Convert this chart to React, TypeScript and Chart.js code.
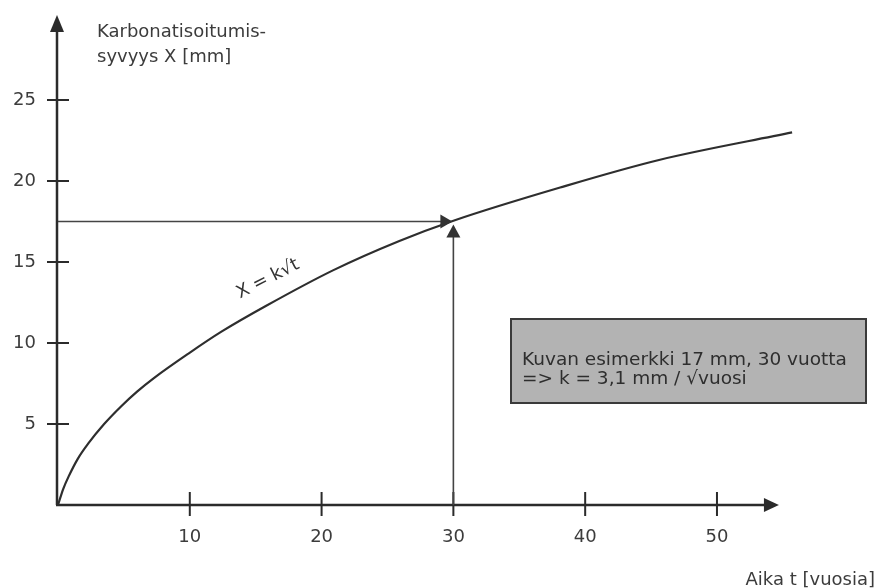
import { useEffect, useRef } from "react";
import { Chart, registerables } from "chart.js";

Chart.register(...registerables);

// Curve: time t [years] vs carbonation depth X [mm]
const timeYears = [0, 0.4, 0.8, 1.5, 2.3, 3.5, 4.8, 6, 7.3, 9.9, 12.4, 15.8, 20.9, 25.9, 30, 38.1, 45.6, 55.7];
const depthMm = [0, 1.0, 1.75, 2.85, 3.8, 5.0, 6.1, 7.0, 7.85, 9.35, 10.7, 12.3, 14.5, 16.3, 17.55, 19.6, 21.3, 23.0];

const xTicks = [10, 20, 30, 40, 50];
const yTicks = [5, 10, 15, 20, 25];

const exampleT = 30;
const exampleX = 17.5;

const xAxisEnd = 54.7;

const yAxisTitle = ["Karbonatisoitumis-", "syvyys X [mm]"];
const xAxisTitle = "Aika t [vuosia]";
const curveLabel = "X = k√t";
const boxLines = ["Kuvan esimerkki 17 mm, 30 vuotta", "=> k = 3,1 mm / √vuosi"];

const FONT = "'DejaVu Sans', 'Liberation Sans', sans-serif";
const AXIS_COLOR = "#2b2b2b";
const TEXT_COLOR = "#3c3c3c";

function arrowHead(
  ctx: CanvasRenderingContext2D,
  tipX: number,
  tipY: number,
  dir: "up" | "right",
  len: number,
  half: number
) {
  ctx.beginPath();
  if (dir === "up") {
    ctx.moveTo(tipX, tipY);
    ctx.lineTo(tipX - half, tipY + len);
    ctx.lineTo(tipX + half, tipY + len);
  } else {
    ctx.moveTo(tipX, tipY);
    ctx.lineTo(tipX - len, tipY - half);
    ctx.lineTo(tipX - len, tipY + half);
  }
  ctx.closePath();
  ctx.fill();
}

const overlay = {
  id: "overlay",
  beforeDraw(chart: any) {
    const { ctx, width, height } = chart;
    ctx.save();
    ctx.fillStyle = "#ffffff";
    ctx.fillRect(0, 0, width, height);
    ctx.restore();
  },
  afterDraw(chart: any) {
    const { ctx, chartArea } = chart;
    const xs = chart.scales.x;
    const ys = chart.scales.y;
    const ox = xs.getPixelForValue(0);
    const oy = ys.getPixelForValue(0);
    const xEnd = xs.getPixelForValue(xAxisEnd);
    const yTop = chartArea.top;

    ctx.save();
    ctx.strokeStyle = AXIS_COLOR;
    ctx.fillStyle = AXIS_COLOR;
    ctx.lineCap = "butt";

    // axes
    ctx.lineWidth = 2.5;
    ctx.beginPath();
    ctx.moveTo(ox - 1, oy);
    ctx.lineTo(ox - 1, yTop + 10);
    ctx.moveTo(ox - 2, oy);
    ctx.lineTo(xEnd - 8, oy);
    ctx.stroke();
    arrowHead(ctx, ox - 1, yTop, "up", 17, 7);
    arrowHead(ctx, xEnd, oy, "right", 15, 7);

    // tick marks crossing the axes
    ctx.lineWidth = 2;
    ctx.beginPath();
    for (const v of yTicks) {
      const py = ys.getPixelForValue(v);
      ctx.moveTo(ox - 11, py);
      ctx.lineTo(ox + 11, py);
    }
    for (const v of xTicks) {
      const px = xs.getPixelForValue(v);
      ctx.moveTo(px, oy - 13);
      ctx.lineTo(px, oy + 11);
    }
    ctx.stroke();

    // example arrows
    const px = xs.getPixelForValue(exampleT);
    const py = ys.getPixelForValue(exampleX);
    ctx.strokeStyle = "#444";
    ctx.fillStyle = "#333";
    ctx.lineWidth = 1.6;
    ctx.beginPath();
    ctx.moveTo(ox, py);
    ctx.lineTo(px - 10, py);
    ctx.moveTo(px, oy);
    ctx.lineTo(px, py + 14);
    ctx.stroke();
    arrowHead(ctx, px - 1, py, "right", 12, 7);
    arrowHead(ctx, px, py + 3, "up", 13, 7);

    // curve label
    ctx.save();
    ctx.translate(268, 279);
    ctx.rotate((-27 * Math.PI) / 180);
    ctx.font = `18px ${FONT}`;
    ctx.fillStyle = "#333";
    ctx.textAlign = "center";
    ctx.textBaseline = "middle";
    ctx.fillText(curveLabel, 0, 0);
    ctx.restore();

    // info box
    ctx.fillStyle = "#b3b3b3";
    ctx.fillRect(510, 318, 357, 86);
    ctx.strokeStyle = "#3a3a3a";
    ctx.lineWidth = 2;
    ctx.strokeRect(511, 319, 355, 84);
    ctx.fillStyle = "#2e2e2e";
    ctx.font = `18.5px ${FONT}`;
    ctx.textAlign = "left";
    ctx.textBaseline = "middle";
    ctx.fillText(boxLines[0], 522, 360);
    ctx.fillText(boxLines[1], 522, 379);

    // axis titles
    ctx.fillStyle = TEXT_COLOR;
    ctx.font = `18px ${FONT}`;
    ctx.textAlign = "left";
    ctx.fillText(yAxisTitle[0], 97, 32);
    ctx.fillText(yAxisTitle[1], 97, 57);
    ctx.textAlign = "right";
    ctx.fillText(xAxisTitle, 875, 580);

    ctx.restore();
  },
};

export default function App() {
  const canvasRef = useRef<HTMLCanvasElement | null>(null);

  useEffect(() => {
    const canvas = canvasRef.current;
    if (!canvas) return;
    const chart = new Chart(canvas, {
      type: "scatter",
      data: {
        datasets: [
          {
            data: timeYears.map((t, i) => ({ x: t, y: depthMm[i] })),
            showLine: true,
            borderColor: "#2e2e2e",
            borderWidth: 2.2,
            pointRadius: 0,
            cubicInterpolationMode: "monotone",
            fill: false,
          },
        ],
      },
      options: {
        responsive: false,
        animation: false,
        devicePixelRatio: 1,
        layout: { padding: { left: 0, top: 15, right: 76, bottom: 0 } },
        plugins: {
          legend: { display: false },
          tooltip: { enabled: false },
          title: { display: false },
        },
        scales: {
          x: {
            type: "linear",
            min: 0,
            max: 56.3,
            grid: { display: false, drawTicks: false },
            border: { display: false },
            afterBuildTicks: (s: any) => {
              s.ticks = xTicks.map((v) => ({ value: v }));
            },
            afterFit: (s: any) => {
              s.height = 83;
              s.paddingLeft = 0;
              s.paddingRight = 0;
            },
            ticks: {
              padding: 22,
              color: TEXT_COLOR,
              font: { family: FONT, size: 18 },
              maxRotation: 0,
              autoSkip: false,
            },
          },
          y: {
            type: "linear",
            min: 0,
            max: 30.25,
            grid: { display: false, drawTicks: false },
            border: { display: false },
            afterBuildTicks: (s: any) => {
              s.ticks = yTicks.map((v) => ({ value: v }));
            },
            afterFit: (s: any) => {
              s.width = 58;
              s.paddingTop = 0;
              s.paddingBottom = 0;
            },
            ticks: {
              padding: 22,
              color: TEXT_COLOR,
              font: { family: FONT, size: 18 },
              autoSkip: false,
            },
          },
        },
      },
      plugins: [overlay],
    } as any);
    return () => chart.destroy();
  }, []);

  return (
    <div style={{ position: "fixed", left: 0, top: 0, width: 876, height: 588, background: "#fff" }}>
      <canvas ref={canvasRef} width={876} height={588} style={{ display: "block" }} />
    </div>
  );
}
